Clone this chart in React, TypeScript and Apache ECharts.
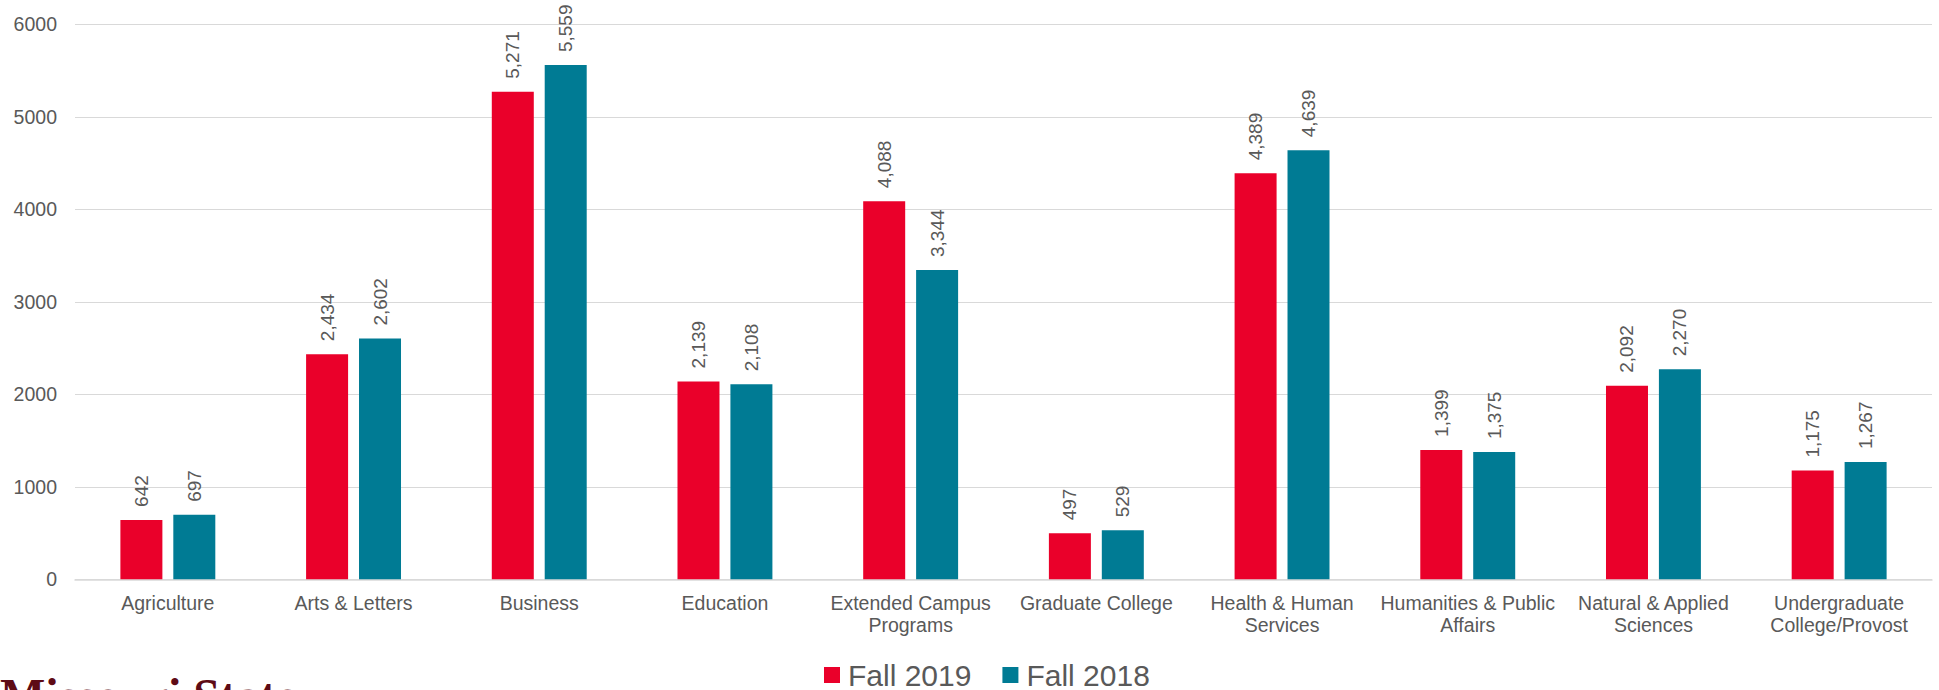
import React, { useEffect, useRef } from "react";
import * as echarts from "echarts";

const categories = [
  "Agriculture",
  "Arts & Letters",
  "Business",
  "Education",
  "Extended Campus\nPrograms",
  "Graduate College",
  "Health & Human\nServices",
  "Humanities & Public\nAffairs",
  "Natural & Applied\nSciences",
  "Undergraduate\nCollege/Provost",
];
const fall2019 = [642, 2434, 5271, 2139, 4088, 497, 4389, 1399, 2092, 1175];
const fall2018 = [697, 2602, 5559, 2108, 3344, 529, 4639, 1375, 2270, 1267];
const seriesNames = ["Fall 2019", "Fall 2018"];
const colors = ["#EA002A", "#007B94"];

const FONT = '"Liberation Sans", Arial, sans-serif';

export default function App() {
  const ref = useRef<HTMLDivElement>(null);
  useEffect(() => {
    if (!ref.current) return;
    const chart = echarts.init(ref.current, null, { renderer: "svg" });
    const label = {
      show: true,
      position: "top",
      rotate: 90,
      align: "left",
      verticalAlign: "middle",
      distance: 13,
      color: "#595959",
      fontSize: 19,
      fontFamily: FONT,
      formatter: (p: any) => Number(p.value).toLocaleString("en-US"),
    };
    chart.setOption({
      animation: false,
      textStyle: { fontFamily: FONT },
      grid: { left: 75, right: 7, top: 24.3, height: 555, containLabel: false },
      legend: {
        left: 819,
        top: 654,
        itemWidth: 16,
        itemHeight: 16,
        itemGap: 31,
        icon: "rect",
        textStyle: {
          fontSize: 30,
          lineHeight: 32,
          color: "#595959",
          fontFamily: FONT,
          padding: [0, 0, 0, 3],
        },
        data: seriesNames,
      },
      xAxis: {
        type: "category",
        data: categories,
        axisLine: { lineStyle: { color: "#D9D9D9", width: 1.5 } },
        axisTick: { show: false },
        axisLabel: {
          interval: 0,
          color: "#595959",
          fontSize: 19.5,
          lineHeight: 22,
          margin: 13,
          fontFamily: FONT,
        },
      },
      yAxis: {
        type: "value",
        min: 0,
        max: 6000,
        interval: 1000,
        axisLine: { show: false },
        axisTick: { show: false },
        splitLine: { lineStyle: { color: "#D9D9D9", width: 1 } },
        axisLabel: {
          color: "#595959",
          fontSize: 19.5,
          margin: 18,
          fontFamily: FONT,
          formatter: (v: number) => String(v),
        },
      },
      series: [
        {
          name: seriesNames[0],
          type: "bar",
          data: fall2019,
          barWidth: 42,
          barGap: "26%",
          itemStyle: { color: colors[0] },
          label,
        },
        {
          name: seriesNames[1],
          type: "bar",
          data: fall2018,
          barWidth: 42,
          barGap: "26%",
          itemStyle: { color: colors[1] },
          label,
        },
      ],
      graphic: [
        {
          type: "text",
          left: 0,
          top: 671,
          style: {
            text: "Missouri State",
            font: 'bold 48px "Liberation Serif", "Times New Roman", serif',
            fill: "#5E0B15",
          },
        },
      ],
    });
    return () => chart.dispose();
  }, []);
  return (
    <div
      ref={ref}
      style={{ position: "fixed", left: 0, top: 0, width: 1939, height: 690, background: "#fff" }}
    />
  );
}
